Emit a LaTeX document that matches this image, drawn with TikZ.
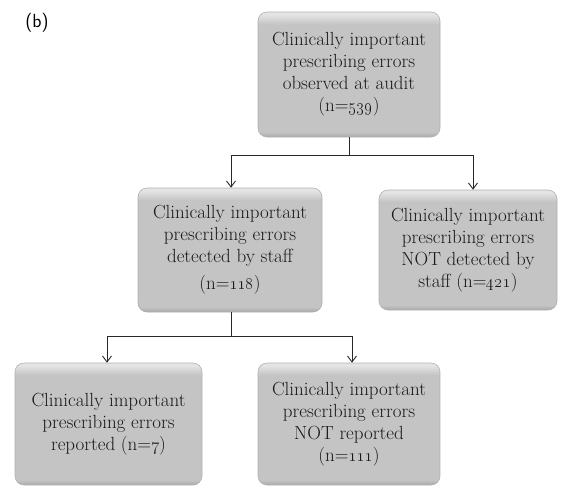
\documentclass[tikz,border=0pt]{standalone}
\usetikzlibrary{arrows.meta}
\definecolor{boxfill}{RGB}{196,196,196}
\definecolor{boxlight}{RGB}{228,228,228}
\definecolor{boxdark}{RGB}{168,168,168}
\definecolor{boxedge}{RGB}{178,178,178}
\definecolor{linecol}{RGB}{40,40,40}
\definecolor{textcol}{RGB}{25,25,25}
\pgfdeclareverticalshading{boxshade}{100bp}{%
  color(0bp)=(boxdark); color(25bp)=(boxdark); color(27bp)=(boxfill);
  color(70bp)=(boxfill); color(74bp)=(boxlight); color(100bp)=(boxlight)}
\tikzset{
  flowbox/.style={rectangle, rounded corners=9pt, shading=boxshade,
    draw=boxedge, line width=0.6pt, align=center, inner sep=3pt,
    text=textcol, font=\fontsize{19}{22}\selectfont},
  arr/.style={draw=linecol, line width=0.9pt,
    -{Straight Barb[length=6pt,width=9pt,line width=0.9pt]}},
  conn/.style={draw=linecol, line width=0.9pt}
}
\newcommand{\osn}[1]{\oldstylenums{#1}}
\begin{document}
\begin{tikzpicture}[x=1pt,y=-1pt]
  \useasboundingbox[fill=white] (0,0) rectangle (562,488);

  \node[font=\sffamily\fontsize{19}{21}\selectfont] (lbl) at (37,23) {(b)};

  \node[flowbox, minimum width=182pt, minimum height=125pt] (top) at (349,74.5)
    {Clinically important\\prescribing errors\\observed at audit\\(n=\osn{539})};
  \node[flowbox, minimum width=184pt, minimum height=124pt] (midL) at (230,250)
    {Clinically important\\prescribing errors\\detected by staff\\[5pt](n=\osn{118})};
  \node[flowbox, minimum width=178pt, minimum height=120pt] (midR) at (468,250)
    {Clinically important\\prescribing errors\\NOT detected by\\staff (n=\osn{421})};
  \node[flowbox, minimum width=187pt, minimum height=122pt] (botL) at (108.5,424)
    {Clinically important\\prescribing errors\\reported (n=\osn{7})};
  \node[flowbox, minimum width=182pt, minimum height=122pt] (botR) at (349,424)
    {Clinically important\\prescribing errors\\NOT reported\\(n=\osn{111})};

  % first split
  \coordinate (j1) at (349,155);
  \coordinate (a1) at (231,155);
  \coordinate (a2) at (473,155);
  \draw[conn] (top.south) -- (j1);
  \draw[conn] (a1) -- (a2);
  \draw[arr] (a1) -- (a1 |- midL.north);
  \draw[arr] (a2) -- (a2 |- midR.north);

  % second split
  \coordinate (j2) at (231,336);
  \coordinate (b1) at (107,336);
  \coordinate (b2) at (352,336);
  \draw[conn] (j2 |- midL.south) -- (j2);
  \draw[conn] (b1) -- (b2);
  \draw[arr] (b1) -- (b1 |- botL.north);
  \draw[arr] (b2) -- (b2 |- botR.north);
\end{tikzpicture}
\end{document}
